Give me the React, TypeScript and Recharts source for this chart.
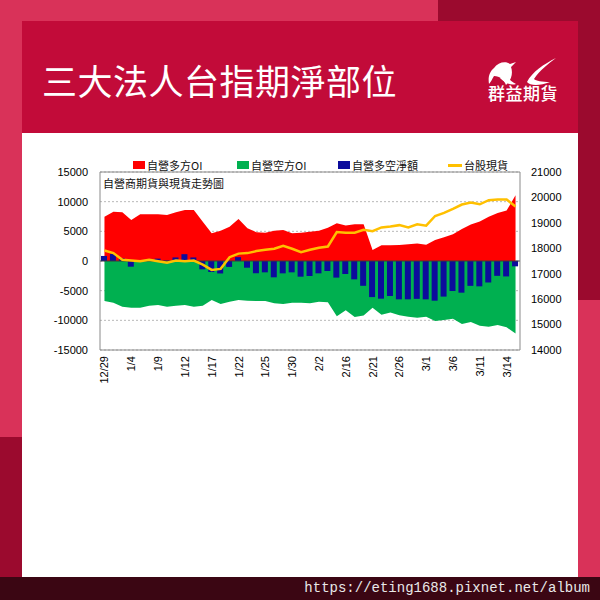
import React from 'react';
import {
  ComposedChart, Area, Bar, Line, XAxis, YAxis, CartesianGrid, ReferenceLine,
} from 'recharts';

const dates = ['12/29','1/2','1/3','1/4','1/5','1/8','1/9','1/10','1/11','1/12','1/15','1/16','1/17','1/18','1/19','1/22','1/23','1/24','1/25','1/26','1/29','1/30','1/31','2/1','2/2','2/5','2/15','2/16','2/19','2/20','2/21','2/22','2/23','2/26','2/27','2/29','3/1','3/4','3/5','3/6','3/7','3/8','3/11','3/12','3/13','3/14','3/15'];

const longOI = [7470,8300,8200,6900,7870,7900,7870,7760,8200,8600,8600,6630,4670,5100,5780,7080,5510,4840,4780,5110,5230,4670,4780,4950,5110,5620,6350,6000,6200,6200,1850,2650,2650,2700,2810,2950,2720,3540,4000,4500,5400,6150,6650,7470,8100,8500,11100];

const shortOI = [-6750,-7030,-7700,-7870,-7870,-7530,-7420,-7700,-7530,-7420,-7700,-7530,-6580,-7250,-6860,-6580,-6690,-6750,-6750,-7140,-7250,-7030,-7030,-7140,-6860,-6970,-9300,-8300,-9450,-9200,-7900,-9050,-8700,-9150,-9390,-9560,-9390,-10120,-9950,-9730,-10620,-10290,-10900,-11070,-10790,-11180,-12200];

const netOI = [850,1200,450,-960,100,300,400,60,600,1150,600,-1400,-1850,-2100,-1000,650,-1130,-2080,-1910,-2750,-2080,-1910,-2640,-2530,-2080,-1690,-2800,-2190,-3090,-4180,-6080,-6350,-5900,-6460,-6460,-6380,-6460,-6690,-6000,-5060,-5340,-4190,-4270,-3620,-2500,-2600,-900];

const taiex = [17910,17810,17545,17520,17490,17545,17490,17430,17520,17490,17520,17360,17150,17190,17650,17790,17810,17890,17940,17980,18100,17980,17850,17940,18020,18070,18640,18610,18610,18730,18670,18820,18860,18910,18820,18940,18890,19270,19390,19550,19720,19800,19730,19890,19920,19920,19640];

const leftTicks = [-15000,-10000,-5000,0,5000,10000,15000];
const rightTicks = [14000,15000,16000,17000,18000,19000,20000,21000];

const data = dates.map((d, i) => ({
  date: d,
  long: longOI[i],
  short: shortOI[i],
  net: netOI[i],
  taiex: taiex[i],
}));

const CJK = '"Noto Sans CJK TC", "Noto Sans", sans-serif';
const NUM = '"Liberation Sans", Arial, sans-serif';

const XTick = (props: any) => {
  const { x, y, payload } = props;
  return (
    <text
      x={x}
      y={y}
      transform={`rotate(-90 ${x} ${y})`}
      textAnchor="end"
      dominantBaseline="central"
      fontSize={11}
      fontFamily={NUM}
      fill="#000"
    >
      {payload.value}
    </text>
  );
};

const LegendItem = ({ color, label, line }: { color: string; label: string; line?: boolean }) => (
  <div style={{ display: 'flex', alignItems: 'center', whiteSpace: 'nowrap' }}>
    {line ? (
      <div style={{ width: 14, height: 3, background: color, marginRight: 2 }} />
    ) : (
      <div style={{ width: 12, height: 8, background: color, marginRight: 2 }} />
    )}
    <span style={{ fontSize: 11, fontFamily: CJK, color: '#111', lineHeight: '12px', whiteSpace: 'nowrap' }}>{label}</span>
  </div>
);

export default function App() {
  return (
    <div style={{ position: 'absolute', left: 0, top: 0, width: 600, height: 600, overflow: 'hidden', background: '#D93259' }}>
      {/* dark decorative blocks */}
      <div style={{ position: 'absolute', left: 438, top: 0, width: 162, height: 300, background: '#9B0A2E' }} />
      <div style={{ position: 'absolute', left: 0, top: 437, width: 22, height: 140, background: '#9B0A2E' }} />
      {/* header */}
      <div style={{ position: 'absolute', left: 22, top: 21, width: 556, height: 112, background: '#C20B39' }} />
      <div style={{ position: 'absolute', left: 42, top: 56, color: '#fff', fontFamily: CJK, fontSize: 35, lineHeight: '48px', letterSpacing: 0.5, whiteSpace: 'nowrap' }}>
        三大法人台指期淨部位
      </div>
      {/* logo */}
      <svg style={{ position: 'absolute', left: 480, top: 52 }} width={90} height={56}>
        <path d="M14 16 C18 10 26 9 30 12 L36 10 L31 15 C33 20 32 28 26 33 C24 28 20 24 14 24 C12 27 11 30 9 32 C8 26 9 20 14 16 Z" fill="#fff" />
        <path d="M20 26 C24 30 30 34 36 32 C32 30 30 28 28 26 Z" fill="#fff" />
        <path d="M76 6 C64 12 52 20 47 30 C50 34 60 34 70 30 C62 30 56 29 54 27 C60 18 68 12 76 6 Z" fill="#fff" />
        <text x={43} y={48} textAnchor="middle" fontSize={17} fontWeight={500} fontFamily={CJK} fill="#fff" letterSpacing={0.5}>群益期貨</text>
      </svg>
      {/* white card */}
      <div style={{ position: 'absolute', left: 22, top: 133, width: 556, height: 444, background: '#ffffff' }} />
      {/* bottom bar */}
      <div style={{ position: 'absolute', left: 0, top: 577, width: 600, height: 23, background: '#3B0613' }} />
      <div style={{ position: 'absolute', left: 0, top: 577, width: 590, height: 23, textAlign: 'right', color: '#e8e8e8', fontFamily: '"Liberation Mono", "DejaVu Sans Mono", monospace', fontSize: 14, lineHeight: '23px' }}>
        https://eting1688.pixnet.net/album
      </div>

      {/* legend */}
      <div style={{ position: 'absolute', left: 133, top: 159, width: 400, height: 14 }}>
        <div style={{ position: 'absolute', left: 0, top: 0 }}><LegendItem color="#FF0000" label="自營多方OI" /></div>
        <div style={{ position: 'absolute', left: 104, top: 0 }}><LegendItem color="#00B050" label="自營空方OI" /></div>
        <div style={{ position: 'absolute', left: 205, top: 0 }}><LegendItem color="#0C0C9C" label="自營多空淨額" /></div>
        <div style={{ position: 'absolute', left: 315, top: 0 }}><LegendItem color="#FFC000" label="台股現貨" line /></div>
      </div>

      {/* chart */}
      <div style={{ position: 'absolute', left: 0, top: 150 }}>
        <ComposedChart width={600} height={260} data={data} margin={{ top: 22, right: 0, left: 0, bottom: 0 }} barCategoryGap="35%">
          <CartesianGrid yAxisId="left" vertical={false} stroke="#b8b8b8" strokeDasharray="2 2" />
          <XAxis
            dataKey="date"
            interval={2}
            tick={<XTick />}
            tickLine={false}
            tickSize={0}
            tickMargin={6}
            height={60}
            axisLine={{ stroke: '#8a8a8a' }}
          />
          <YAxis
            yAxisId="left"
            orientation="left"
            width={100}
            domain={[-15000, 15000]}
            ticks={leftTicks}
            allowDataOverflow
            tickLine={false}
            tickSize={4}
            tickMargin={8}
            axisLine={{ stroke: '#8a8a8a' }}
            tick={{ fontSize: 11, fontFamily: NUM, fill: '#000' }}
          />
          <YAxis
            yAxisId="right"
            orientation="right"
            width={80}
            domain={[14000, 21000]}
            ticks={rightTicks}
            allowDataOverflow
            tickLine={false}
            tickSize={4}
            tickMargin={7}
            axisLine={{ stroke: '#8a8a8a' }}
            tick={{ fontSize: 11, fontFamily: NUM, fill: '#000' }}
          />
          <ReferenceLine yAxisId="left" y={15000} stroke="#8a8a8a" />
          <Area yAxisId="left" type="linear" dataKey="long" stroke="none" fill="#FF0000" fillOpacity={1} baseValue={0} isAnimationActive={false} />
          <Area yAxisId="left" type="linear" dataKey="short" stroke="none" fill="#00B050" fillOpacity={1} baseValue={0} isAnimationActive={false} />
          <Bar yAxisId="left" dataKey="net" fill="#0C0C9C" barSize={6} isAnimationActive={false} />
          <ReferenceLine yAxisId="left" y={0} stroke="#3a3a3a" />
          <Line yAxisId="right" type="linear" dataKey="taiex" stroke="#FFC000" strokeWidth={2.5} dot={false} isAnimationActive={false} />
        </ComposedChart>
      </div>

      {/* in-chart title */}
      <div style={{ position: 'absolute', left: 103, top: 176, fontFamily: CJK, fontSize: 11, lineHeight: '14px', color: '#111', whiteSpace: 'nowrap' }}>
        自營商期貨與現貨走勢圖
      </div>
    </div>
  );
}
